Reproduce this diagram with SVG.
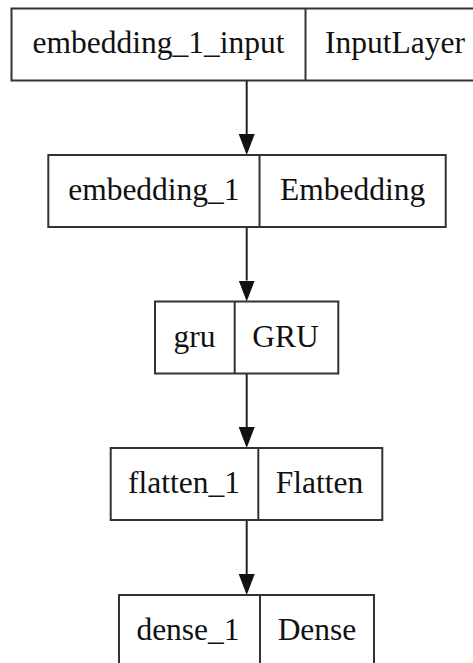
<svg xmlns="http://www.w3.org/2000/svg" width="473" height="663" viewBox="0 0 473 663">
  <style>
    .box { fill: #ffffff; stroke: #333333; stroke-width: 2; }
    .div { stroke: #333333; stroke-width: 2; }
    .edge { stroke: #222222; stroke-width: 2; fill: none; marker-end: url(#head); }
  </style>
  <defs>
    <marker id="head" markerUnits="userSpaceOnUse" markerWidth="24" markerHeight="18" refX="0" refY="8" orient="auto">
      <path d="M0,0 L21,8 L0,16 Z" fill="#111111"/>
    </marker>
  </defs>
  <rect width="473" height="663" fill="#ffffff"/>

  <!-- layer-to-layer connectors -->
  <g id="edges">
    <line class="edge" x1="246.7" y1="80.5" x2="246.7" y2="134"/>
    <line class="edge" x1="246.7" y1="227" x2="246.7" y2="280.5"/>
    <line class="edge" x1="246.7" y1="373.5" x2="246.7" y2="427"/>
    <line class="edge" x1="246.7" y1="520.5" x2="246.7" y2="574"/>
  </g>

  <!-- layer nodes: name | class -->
  <g font-family="Liberation Serif, Times New Roman, serif" font-size="31.5" fill="#111111" text-anchor="middle">
    <g id="embedding_1_input">
      <rect class="box" x="11.5" y="8.5" width="474" height="72"/>
      <line class="div" x1="305.5" y1="8.5" x2="305.5" y2="80.5"/>
      <text x="158.5" y="53">embedding_1_input</text>
      <text x="395" y="53">InputLayer</text>
    </g>

    <g id="embedding_1">
      <rect class="box" x="48.3" y="155" width="397.4" height="72"/>
      <line class="div" x1="259.5" y1="155" x2="259.5" y2="227"/>
      <text x="153.9" y="199.5">embedding_1</text>
      <text x="352.6" y="199.5">Embedding</text>
    </g>

    <g id="gru">
      <rect class="box" x="155" y="301.5" width="183.3" height="72"/>
      <line class="div" x1="234.7" y1="301.5" x2="234.7" y2="373.5"/>
      <text x="194.5" y="346.5">gru</text>
      <text x="285.5" y="346.5">GRU</text>
    </g>

    <g id="flatten_1">
      <rect class="box" x="110.7" y="448" width="271.6" height="72"/>
      <line class="div" x1="258.3" y1="448" x2="258.3" y2="520"/>
      <text x="184" y="492.5">flatten_1</text>
      <text x="319.5" y="492.5">Flatten</text>
    </g>

    <g id="dense_1">
      <rect class="box" x="119" y="595" width="255" height="72"/>
      <line class="div" x1="260" y1="595" x2="260" y2="667"/>
      <text x="188" y="639.5">dense_1</text>
      <text x="317" y="639.5">Dense</text>
    </g>
  </g>
</svg>
